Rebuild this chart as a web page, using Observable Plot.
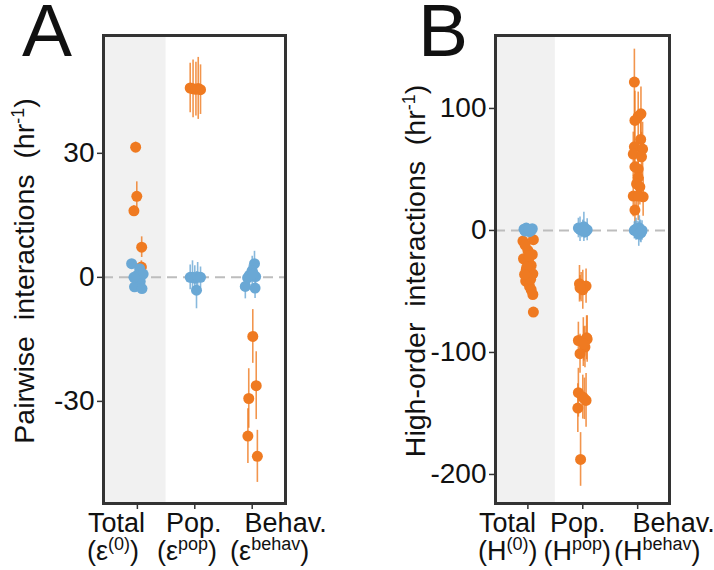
<!DOCTYPE html>
<html>
<head>
<meta charset="utf-8">
<script src="https://cdn.jsdelivr.net/npm/d3@7"></script>
<script src="https://cdn.jsdelivr.net/npm/@observablehq/plot@0.6"></script>
<style>
  html, body { margin: 0; padding: 0; background: #fff; }
  #wrap { position: relative; width: 714px; height: 570px; font-family: "Liberation Sans", "DejaVu Sans", sans-serif; color: #111; overflow: hidden; }
  .panel { position: absolute; top: 0; }
  .big { position: absolute; font-size: 75px; line-height: 58px; top: 1px; }
  .xline { position: absolute; font-size: 27px; line-height: 27px; height: 27px; white-space: nowrap; }
  .xline span { display: inline-block; }
  .xline sup { font-size: 18px; vertical-align: 10px; line-height: 0; }
  .yl { position: absolute; font-size: 28.5px; line-height: 30px; white-space: pre; transform: translate(-50%, -50%) rotate(-90deg); }
  .yl sup { font-size: 18px; vertical-align: 10px; line-height: 0; }
</style>
</head>
<body>
<div id="wrap"></div>
<script>
// ---------- Data ----------
const categories = ["Total", "Pop.", "Behav."];
const seriesNames = ["strong", "weak"];           // orange, blue
const seriesColors = ["#ef7a21", "#6aa8d5"];

// Panel A: pairwise interactions
const aTotalOrange = [31.5, 19.6, 16.1, 7.3, 2.5];
const aTotalOrangeErr = [1.2, 3.5, 1.2, 2.5, 1.5];
const aTotalOrangeJit = [-0.03, -0.01, -0.06, 0.075, 0.07];
const aTotalBlue = [3.3, 2.1, 0.5, -0.3, -1.0, -2.3, -2.7, 0.8, 0.0];
const aTotalBlueErr = [1, 1, 1, 1, 1, 1, 1, 1, 1];
const aTotalBlueJit = [-0.1, 0.04, 0.0, -0.02, 0.05, -0.05, 0.08, 0.1, -0.06];
const aPopOrange = [45.8, 45.6, 45.5, 45.7, 45.4];
const aPopOrangeErr = [6, 7, 6.5, 7.5, 6];
const aPopOrangeJit = [-0.08, -0.03, 0.02, 0.06, 0.1];
const aPopBlue = [0.0, 0.0, -0.2, 0.1, -3.1, 0.0];
const aPopBlueErr = [3, 4, 3, 3.5, 4.5, 2.5];
const aPopBlueJit = [-0.08, -0.04, 0.0, 0.05, 0.03, 0.1];
const aBehavOrange = [-14.3, -26.2, -29.3, -38.4, -43.3];
const aBehavOrangeErr = [6.5, 8.2, 7.2, 6.6, 6.3];
const aBehavOrangeJit = [0.01, 0.07, -0.06, -0.075, 0.09];
const aBehavBlue = [3.3, 1.6, 0.5, 0.2, -0.1, -2.2, -2.6, 0.8];
const aBehavBlueErr = [3, 3.5, 2.5, 3, 2, 3, 2.5, 2];
const aBehavBlueJit = [0.04, 0.0, -0.05, 0.06, -0.08, -0.12, 0.05, 0.02];

// Panel B: high-order interactions
const bTotalOrange = [-8.7, -7.6, -16.4, -19.7, -23.2, -24.6, -28.7, -32.2, -35.5, -38.3, -41.5, -45.9, -48.6, -52.5, -66.9, -12, -21, -30, -40, -36];
const bTotalOrangeErr = [3, 3, 3, 3, 3, 3, 3, 3, 3, 3, 3, 3, 3, 3, 3, 3, 3, 3, 3, 3];
const bTotalOrangeJit = [-0.09, 0.1, 0.0, 0.08, -0.08, 0.01, 0.06, -0.03, 0.09, 0.0, -0.04, 0.03, 0.06, 0.09, 0.1, -0.05, 0.03, -0.02, 0.05, -0.06];
const bTotalBlue = [1, 2, 0.5, -1, 0, 1.5, -0.5, 0.8];
const bTotalBlueErr = [2, 2, 2, 2, 2, 2, 2, 2];
const bTotalBlueJit = [-0.07, -0.03, 0.0, 0.03, 0.06, 0.08, -0.05, 0.02];
const bPopOrange = [-43.7, -46.4, -45.6, -48.6, -47, -88, -90.2, -91.5, -95.6, -101, -89, -93, -133, -136.6, -139.3, -145.6, -138, -187.7];
const bPopOrangeErr = [15, 12, 14, 16, 10, 18, 15, 20, 17, 16, 19, 14, 20, 18, 22, 20, 17, 22];
const bPopOrangeJit = [-0.06, -0.03, 0.06, 0.0, -0.05, 0.07, -0.08, 0.01, 0.04, -0.05, 0.08, 0.02, -0.08, 0.0, 0.06, -0.09, 0.03, -0.04];
const bPopBlue = [2, 1, 0, 3, -1, 0.5, 1.5, -0.5];
const bPopBlueErr = [8, 10, 6, 12, 5, 9, 7, 6];
const bPopBlueJit = [-0.08, -0.05, -0.02, 0.02, 0.05, 0.08, 0.0, 0.03];
const bBehavOrange = [121.6, 95.6, 93.4, 90.2, 74.6, 68.6, 66.7, 62.6, 60.4, 52.2, 50.4, 43.5, 38.1, 35.8, 28.2, 27.6, 28.2, 16.7];
const bBehavOrangeErr = [27, 22, 20, 24, 18, 20, 22, 18, 20, 17, 19, 16, 18, 15, 17, 16, 20, 15];
const bBehavOrangeJit = [-0.06, 0.06, 0.01, -0.05, 0.055, -0.06, 0.09, -0.08, 0.07, -0.05, 0.01, 0.01, -0.02, 0.04, -0.08, 0.1, 0.01, -0.05];
const bBehavBlue = [0, 1, -1, 2, -2, 0.5, -0.5, 1.5, -3, 0];
const bBehavBlueErr = [7, 9, 6, 10, 8, 7, 9, 6, 10, 8];
const bBehavBlueJit = [-0.06, -0.03, 0.0, 0.03, 0.06, -0.05, 0.05, -0.01, 0.02, 0.08];

// Tick / label text
const aYTicks = [30, 0, -30];
const bYTicks = [100, 0, -100, -200];
const aYLabel = ["Pairwise  interactions  (hr", "-1", ")"];
const bYLabel = ["High-order  interactions  (hr", "-1", ")"];
const aXLabels = [["Total", "ε", "(0)"], ["Pop.", "ε", "pop"], ["Behav.", "ε", "behav"]];
const bXLabels = [["Total", "H", "(0)"], ["Pop.", "H", "pop"], ["Behav.", "H", "behav"]];
const panelLetters = ["A", "B"];

// ---------- Build tables ----------
function build(groups) {
  const rows = [];
  for (const [cat, ser, vals, errs, jits] of groups) {
    vals.forEach((v, i) => rows.push({cat, ser, x: cat + jits[i], y: v, lo: v - errs[i], hi: v + errs[i]}));
  }
  return rows;
}
const dataA = build([
  [0, "strong", aTotalOrange, aTotalOrangeErr, aTotalOrangeJit],
  [1, "strong", aPopOrange, aPopOrangeErr, aPopOrangeJit],
  [2, "strong", aBehavOrange, aBehavOrangeErr, aBehavOrangeJit],
  [0, "weak", aTotalBlue, aTotalBlueErr, aTotalBlueJit],
  [1, "weak", aPopBlue, aPopBlueErr, aPopBlueJit],
  [2, "weak", aBehavBlue, aBehavBlueErr, aBehavBlueJit]
]);
const dataB = build([
  [0, "strong", bTotalOrange, bTotalOrangeErr, bTotalOrangeJit],
  [1, "strong", bPopOrange, bPopOrangeErr, bPopOrangeJit],
  [2, "strong", bBehavOrange, bBehavOrangeErr, bBehavOrangeJit],
  [0, "weak", bTotalBlue, bTotalBlueErr, bTotalBlueJit],
  [1, "weak", bPopBlue, bPopBlueErr, bPopBlueJit],
  [2, "weak", bBehavBlue, bBehavBlueErr, bBehavBlueJit]
]);

const xDomain = [-0.59, 2.58];
const FONT = '"Liberation Sans", "DejaVu Sans", sans-serif';

function panel(data, yDomain, yTicks, opts) {
  return Plot.plot({
    width: opts.width, height: 520,
    marginLeft: opts.ml, marginRight: opts.mr, marginTop: 35, marginBottom: 17,
    style: {fontFamily: FONT, fontSize: "28px", color: "#111", background: "transparent", overflow: "visible"},
    x: {domain: xDomain},
    y: {domain: yDomain},
    color: {domain: seriesNames, range: seriesColors},
    marks: [
      Plot.rect([0], {x1: xDomain[0], x2: 0.5, y1: yDomain[0], y2: yDomain[1], fill: "#f1f1f1"}),
      Plot.ruleY([0], {stroke: "#bdbdbd", strokeWidth: 2, strokeDasharray: "10,6"}),
      Plot.ruleX(data, {x: "x", y1: "lo", y2: "hi", stroke: "ser", strokeWidth: 1.6, strokeOpacity: 0.8}),
      Plot.dot(data, {x: "x", y: "y", fill: "ser", r: 5.5, stroke: "none"}),
      Plot.frame({stroke: "#333", strokeWidth: 3}),
      Plot.axisY({ticks: yTicks, tickFormat: d => String(d), tickSize: 6, tickPadding: 3, fontSize: 28, stroke: "#333", strokeWidth: 1.5, label: null}),
      Plot.axisX({ticks: categories.map((c, i) => i), tickFormat: () => "", tickSize: 6, stroke: "#333", strokeWidth: 1.5, label: null})
    ]
  });
}

const wrap = document.getElementById("wrap");
const specs = [
  {data: dataA, yDomain: [-54.7, 58.5], ticks: aYTicks, left: 0, width: 300, ml: 103, mr: 15,
   xLabels: aXLabels, yLabel: aYLabel, yLabelX: 24, letterX: 22, textLeft: 88, gap1: [21, 23], gap2: [18, 13]},
  {data: dataB, yDomain: [-223.8, 159.8], ticks: bYTicks, left: 400, width: 290, ml: 95, mr: 21,
   xLabels: bXLabels, yLabel: bYLabel, yLabelX: 415, letterX: 418, textLeft: 479, gap1: [14, 27], gap2: [6, 3]}
];
specs.forEach((s, k) => {
  const p = panel(s.data, s.yDomain, s.ticks, s);
  p.classList.add("panel");
  p.style.left = s.left + "px";
  wrap.appendChild(p);

  // two-line category label under the panel
  const line1 = document.createElement("div");
  line1.className = "xline";
  line1.style.left = s.textLeft + "px";
  line1.style.top = "510px";
  line1.innerHTML = s.xLabels.map((lab, i) =>
    `<span style="margin-left:${i ? s.gap1[i - 1] : 0}px">${lab[0]}</span>`).join("");
  wrap.appendChild(line1);
  const line2 = document.createElement("div");
  line2.className = "xline";
  line2.style.left = (s.textLeft - 1) + "px";
  line2.style.top = "538px";
  line2.innerHTML = s.xLabels.map((lab, i) =>
    `<span style="margin-left:${i ? s.gap2[i - 1] : 0}px">(${lab[1]}<sup>${lab[2]}</sup>)</span>`).join("");
  wrap.appendChild(line2);

  const ys = p.scale("y");
  const yl = document.createElement("div");
  yl.className = "yl";
  yl.style.left = s.yLabelX + "px";
  yl.style.top = ((ys.apply(s.yDomain[0]) + ys.apply(s.yDomain[1])) / 2 + 2) + "px";
  yl.innerHTML = s.yLabel[0] + "<sup>" + s.yLabel[1] + "</sup>" + s.yLabel[2];
  wrap.appendChild(yl);

  const L = document.createElement("div");
  L.className = "big";
  L.style.left = s.letterX + "px";
  L.textContent = panelLetters[k];
  wrap.appendChild(L);
});
</script>
</body>
</html>
